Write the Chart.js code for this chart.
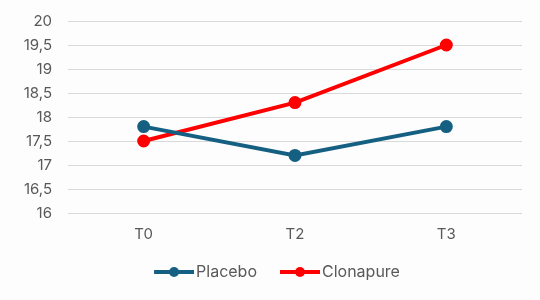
<!DOCTYPE html>
<html>
<head>
<meta charset="utf-8">
<script src="https://cdn.jsdelivr.net/npm/chart.js@4/dist/chart.umd.min.js"></script>
<style>
  html, body { margin: 0; padding: 0; background: #fdfdfd; }
  #wrap { width: 540px; height: 300px; }
</style>
</head>
<body>
<div id="wrap"><canvas id="chart"></canvas></div>
<script>
const labels = ['T0', 'T2', 'T3']
const placebo = [17.8, 17.2, 17.8]
const clonapure = [17.5, 18.3, 19.5]

const seriesNames = ['Placebo', 'Clonapure']
const seriesColors = ['#156082', '#ff0000']

// legend marker: line with a dot, shifted right inside a 48px image
function legendMarker(color) {
  const c = document.createElement('canvas')
  c.width = 48
  c.height = 12
  const g = c.getContext('2d')
  g.strokeStyle = color
  g.lineWidth = 4
  g.beginPath()
  g.moveTo(8, 6)
  g.lineTo(48, 6)
  g.stroke()
  g.fillStyle = color
  g.beginPath()
  g.arc(28, 6, 5, 0, Math.PI * 2)
  g.fill()
  return c
}

// legend sits a bit right of centre in the original
const nudgeLegend = {
  id: 'nudgeLegend',
  afterLayout(chart) {
    chart.legend.left += 15
    chart.legend.right += 15
  },
}

const tickColor = '#595959'
const font = { family: 'Inter, "Open Sans", sans-serif', size: 15 }
const legendFont = { family: 'Inter, "Open Sans", sans-serif', size: 16 }

const config = {
  type: 'line',
  data: {
    labels: labels,
    datasets: [placebo, clonapure].map((d, i) => ({
      label: seriesNames[i],
      data: d,
      borderColor: seriesColors[i],
      backgroundColor: seriesColors[i],
      borderWidth: 4,
      pointRadius: 4.5,
      pointHoverRadius: 4.5,
      tension: 0,
    })),
  },
  options: {
    responsive: true,
    maintainAspectRatio: false,
    animation: false,
    layout: { padding: { left: 0, right: 18, top: 21, bottom: 10 } },
    plugins: {
      tooltip: { enabled: false },
      legend: {
        position: 'bottom',
        labels: {
          usePointStyle: true,
          pointStyleWidth: 36,
          color: tickColor,
          font: legendFont,
          padding: 21,
          generateLabels: (chart) => chart.data.datasets.map((ds, i) => ({
            text: ds.label,
            fontColor: tickColor,
            pointStyle: legendMarker(seriesColors[i]),
            datasetIndex: i,
            hidden: false,
            lineWidth: 0,
          })),
        },
      },
    },
    scales: {
      x: {
        offset: true,
        afterFit: (scale) => { scale.height = 30 },
        grid: { display: false, offset: true, drawTicks: false },
        border: { display: false },
        ticks: { color: tickColor, font: font, padding: 12 },
      },
      y: {
        min: 16,
        max: 20,
        afterFit: (scale) => {
          scale.width = 68
          scale.paddingTop = 0
          scale.paddingBottom = 0
        },
        grid: { color: '#d9d9d9', lineWidth: 1, drawTicks: false },
        border: { display: false },
        ticks: {
          stepSize: 0.5,
          color: tickColor,
          font: font,
          padding: 16,
          callback: (v) => String(v).replace('.', ','),
        },
      },
    },
  },
  plugins: [nudgeLegend],
}

window.myLine = new Chart(document.getElementById('chart'), config)
</script>
</body>
</html>
